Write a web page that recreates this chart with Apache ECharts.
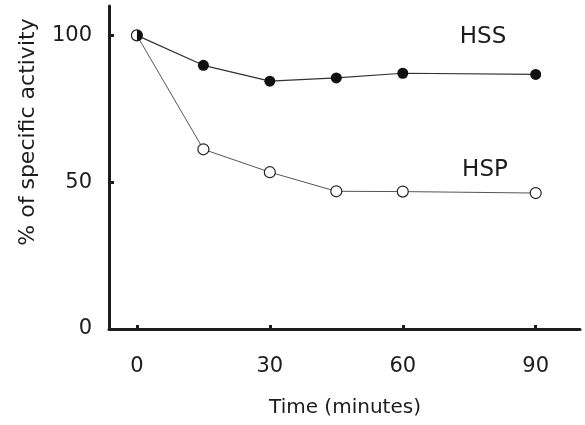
<!DOCTYPE html>
<html>
<head>
<meta charset="utf-8">
<script src="https://cdn.jsdelivr.net/npm/echarts@6/dist/echarts.min.js"></script>
<style>
  html, body { margin: 0; padding: 0; background: #fff; }
  #main { width: 585px; height: 425px; }
</style>
</head>
<body>
<div id="main"></div>
<script>
// time points (minutes)
const times = [0, 15, 30, 45, 60, 90];
// % of specific activity
const hss = [100, 89.8, 84.4, 85.5, 87.1, 86.7];
const hsp = [100, 61.2, 53.4, 46.9, 46.8, 46.3];
const xTicks = [0, 30, 60, 90];
const yTicks = [0, 50, 100];

const FONT = 'DejaVu Sans';
const INK = '#1c1c1c';

const hsp_data = times.map((t, i) => [t, hsp[i]]);
// first HSS point shares the start with HSP: drawn as a right half disc
const hss_data = times.map((t, i) => {
  if (i === 0) {
    return {
      value: [t, hss[i]],
      symbol: 'path://M0,0 A10,10 0 0 1 0,20 Z',
      symbolSize: [5.5, 11],
      symbolOffset: [2.75, 0]
    };
  }
  return [t, hss[i]];
});

const chart = echarts.init(document.getElementById('main'), null, { renderer: 'canvas' });

chart.setOption({
  animation: false,
  backgroundColor: '#fff',
  grid: { left: 109, right: 5, top: 6, bottom: 96, containLabel: false },
  xAxis: {
    type: 'value',
    min: -6.3,
    max: 100,
    splitLine: { show: false },
    axisLine: { onZero: false, lineStyle: { color: INK, width: 3 } },
    axisTick: { show: true, inside: true, length: 4, customValues: xTicks, lineStyle: { color: INK, width: 3 } },
    axisLabel: { customValues: xTicks, margin: 27, color: INK, fontSize: 21, fontFamily: FONT }
  },
  yAxis: {
    type: 'value',
    min: 0,
    max: 110,
    splitLine: { show: false },
    axisLine: { onZero: false, lineStyle: { color: INK, width: 3 } },
    axisTick: { show: true, inside: true, length: 5, customValues: [50, 100], lineStyle: { color: INK, width: 3 } },
    axisLabel: { customValues: yTicks, margin: 17, color: INK, fontSize: 21, fontFamily: FONT }
  },
  graphic: [
    {
      type: 'text', x: 28, y: 132, rotation: Math.PI / 2,
      style: { text: '% of specific activity', fill: INK, font: '22px "DejaVu Sans"', textAlign: 'center', textVerticalAlign: 'middle' }
    },
    {
      type: 'text', x: 345, y: 408,
      style: { text: 'Time (minutes)', fill: INK, font: '20px "DejaVu Sans"', textAlign: 'center', textVerticalAlign: 'middle' }
    },
    {
      type: 'text', x: 483, y: 37,
      style: { text: 'HSS', fill: INK, font: '23px "DejaVu Sans"', textAlign: 'center', textVerticalAlign: 'middle' }
    },
    {
      type: 'text', x: 485, y: 170,
      style: { text: 'HSP', fill: INK, font: '23px "DejaVu Sans"', textAlign: 'center', textVerticalAlign: 'middle' }
    }
  ],
  series: [
    {
      name: 'HSP',
      type: 'line',
      data: hsp_data,
      symbol: 'circle',
      symbolSize: 11,
      lineStyle: { color: '#555', width: 1 },
      itemStyle: { color: '#fff', borderColor: '#222', borderWidth: 1.2 }
    },
    {
      name: 'HSS',
      type: 'line',
      data: hss_data,
      symbol: 'circle',
      symbolSize: 11,
      lineStyle: { color: '#333', width: 1.2 },
      itemStyle: { color: '#111', borderColor: '#111', borderWidth: 0 }
    }
  ]
});
</script>
</body>
</html>
